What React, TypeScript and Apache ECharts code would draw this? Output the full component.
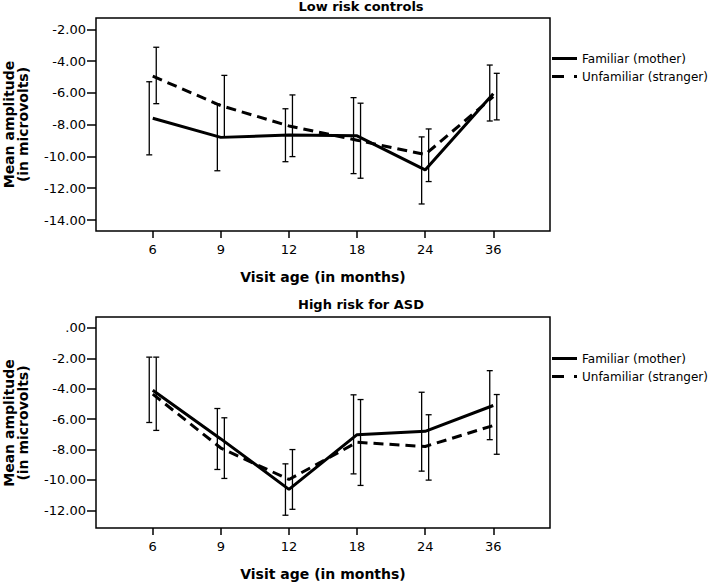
import * as echarts from "echarts";
import { useEffect, useRef } from "react";

const ages = ["6", "9", "12", "18", "24", "36"];
const seriesNames = ["Familiar (mother)", "Unfamiliar (stranger)"];

// Low risk controls
const lowFamiliar = [-7.6, -8.8, -8.65, -8.7, -10.85, -6.05];
const lowFamiliarLo = [-9.9, -10.9, -10.33, -11.08, -12.99, -7.77];
const lowFamiliarHi = [-5.3, -6.7, -7.0, -6.3, -8.77, -4.25];
const lowUnfamiliar = [-4.95, -6.8, -8.08, -8.98, -9.88, -6.24];
const lowUnfamiliarLo = [-6.68, -8.77, -10.01, -11.37, -11.58, -7.7];
const lowUnfamiliarHi = [-3.13, -4.9, -6.13, -6.65, -8.27, -4.77];
const lowTicks = [-2, -4, -6, -8, -10, -12, -14];

// High risk for ASD
const highFamiliar = [-4.1, -7.3, -10.62, -7.02, -6.8, -5.1];
const highFamiliarLo = [-6.22, -9.31, -12.32, -9.6, -9.42, -7.35];
const highFamiliarHi = [-1.92, -5.3, -8.94, -4.4, -4.23, -2.81];
const highUnfamiliar = [-4.35, -7.9, -9.97, -7.52, -7.8, -6.42];
const highUnfamiliarLo = [-6.74, -9.9, -11.93, -10.36, -10.01, -8.31];
const highUnfamiliarHi = [-1.92, -5.91, -8.0, -4.71, -5.71, -4.38];
const highTicks = [0, -2, -4, -6, -8, -10, -12];

const FONT = "DejaVu Sans";
const idx = ages.map((_, i) => i);

function fmtY(v: number) {
  if (v === 0) return ".00";
  return v.toFixed(2);
}

function errorBars(lo: number[], hi: number[], axis: number, dx: number) {
  return {
    type: "custom",
    xAxisIndex: axis,
    yAxisIndex: axis,
    silent: true,
    z: 3,
    data: lo.map((l, i) => [i, l, hi[i]]),
    renderItem: (_p: any, api: any) => {
      const a = api.coord([api.value(0), api.value(2)]);
      const b = api.coord([api.value(0), api.value(1)]);
      const x = a[0] + dx;
      const st = { stroke: "#000", lineWidth: 1.3 };
      return {
        type: "group",
        children: [
          { type: "line", shape: { x1: x, y1: a[1], x2: x, y2: b[1] }, style: st },
          { type: "line", shape: { x1: x - 3, y1: a[1], x2: x + 3, y2: a[1] }, style: st },
          { type: "line", shape: { x1: x - 3, y1: b[1], x2: x + 3, y2: b[1] }, style: st },
        ],
      };
    },
  };
}

function lineSeries(name: string, vals: number[], axis: number, dashed: boolean) {
  return {
    name,
    type: "line",
    xAxisIndex: axis,
    yAxisIndex: axis,
    symbol: "none",
    z: 4,
    data: vals.map((v, i) => [i, v]),
    itemStyle: { color: "#000" },
    lineStyle: { color: "#000", width: 3, type: dashed ? [10, 6] : "solid" },
  };
}

function xAxis(gridIndex: number) {
  return {
    type: "value",
    gridIndex,
    min: -5 / 6,
    max: 35 / 6,
    name: "Visit age (in months)",
    nameLocation: "middle",
    nameGap: 39,
    nameTextStyle: { fontFamily: FONT, fontWeight: "bold", fontSize: 14, color: "#000" },
    axisLine: { show: false, onZero: false },
    axisTick: { show: true, length: 7, lineStyle: { color: "#000", width: 1.5 }, customValues: idx },
    axisLabel: {
      customValues: idx,
      margin: 12,
      fontFamily: FONT,
      fontSize: 13,
      color: "#000",
      formatter: (v: number) => ages[Math.round(v)] ?? "",
    },
    splitLine: { show: false },
  };
}

function yAxis(gridIndex: number, min: number, max: number, ticks: number[]) {
  return {
    type: "value",
    gridIndex,
    min,
    max,
    axisLine: { show: false, onZero: false },
    axisTick: { show: true, length: 9, lineStyle: { color: "#000", width: 1.5 }, customValues: ticks },
    axisLabel: {
      customValues: ticks,
      margin: 10,
      fontFamily: FONT,
      fontSize: 13,
      color: "#000",
      formatter: (v: number) => fmtY(v),
    },
    splitLine: { show: false },
  };
}

function legend(top: number) {
  return {
    orient: "vertical",
    left: 552,
    top,
    itemWidth: 25,
    itemHeight: 3,
    itemGap: 3,
    padding: 0,
    textStyle: { fontFamily: FONT, fontSize: 12, color: "#000", lineHeight: 15 },
    data: [
      { name: seriesNames[0], icon: "path://M0,0H25V3H0Z" },
      { name: seriesNames[1], icon: "path://M0,0H12V3H0Z M22,0H25V3H22Z" },
    ],
  };
}

const titleStyle = { fontFamily: FONT, fontWeight: "bold", fontSize: 13, color: "#000" };
const yNameStyle = {
  text: "Mean amplitude\n(in microvolts)",
  fontFamily: FONT,
  fontWeight: "bold",
  fontSize: 14,
  lineHeight: 14,
  fill: "#000",
  align: "center",
  verticalAlign: "middle",
};

export default function App() {
  const ref = useRef<HTMLDivElement>(null);

  useEffect(() => {
    if (!ref.current) return;
    const chart = echarts.init(ref.current, null, { renderer: "svg" });

    chart.setOption({
      animation: false,
      title: [
        { text: "Low risk controls", left: 361, top: 0, padding: 0, textAlign: "center", textStyle: titleStyle },
        { text: "High risk for ASD", left: 361, top: 298, padding: 0, textAlign: "center", textStyle: titleStyle },
      ],
      legend: [legend(51), legend(351)],
      grid: [
        { left: 96, top: 18, width: 454, height: 213, show: true, borderColor: "#000", borderWidth: 1.5, backgroundColor: "#fff" },
        { left: 96, top: 317, width: 454, height: 212, show: true, borderColor: "#000", borderWidth: 1.5, backgroundColor: "#fff" },
      ],
      xAxis: [xAxis(0), xAxis(1)],
      yAxis: [yAxis(0, -14.69, -1.29, lowTicks), yAxis(1, -13.16, 0.72, highTicks)],
      graphic: [
        { type: "text", x: 16, y: 124.5, rotation: Math.PI / 2, style: yNameStyle },
        { type: "text", x: 16, y: 423, rotation: Math.PI / 2, style: yNameStyle },
      ],
      series: [
        lineSeries(seriesNames[0], lowFamiliar, 0, false),
        lineSeries(seriesNames[1], lowUnfamiliar, 0, true),
        errorBars(lowFamiliarLo, lowFamiliarHi, 0, -3.5),
        errorBars(lowUnfamiliarLo, lowUnfamiliarHi, 0, 3.5),
        lineSeries(seriesNames[0], highFamiliar, 1, false),
        lineSeries(seriesNames[1], highUnfamiliar, 1, true),
        errorBars(highFamiliarLo, highFamiliarHi, 1, -3.5),
        errorBars(highUnfamiliarLo, highUnfamiliarHi, 1, 3.5),
      ],
    });

    return () => chart.dispose();
  }, []);

  return (
    <div
      ref={ref}
      style={{ position: "fixed", left: 0, top: 0, width: 714, height: 582, background: "#fff" }}
    />
  );
}
